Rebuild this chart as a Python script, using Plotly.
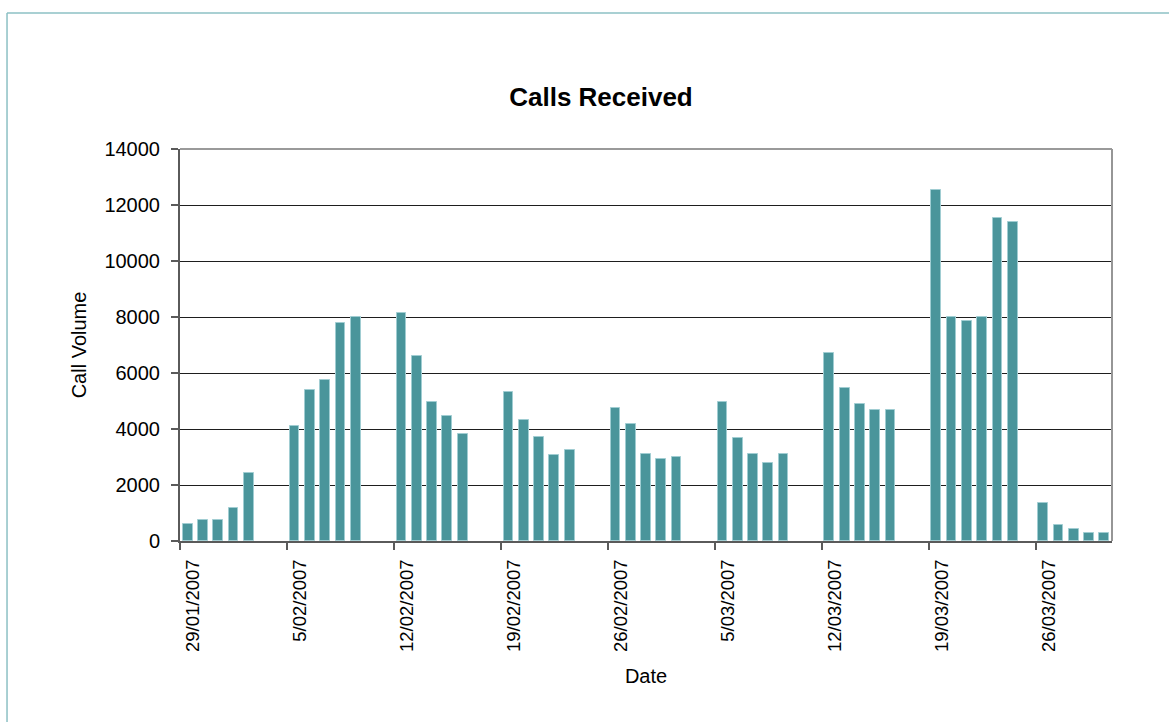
import pandas as pd
import plotly.graph_objects as go

# call days (weekends mostly empty)
dates = [
    "2007-01-29", "2007-01-30", "2007-01-31", "2007-02-01", "2007-02-02",
    "2007-02-05", "2007-02-06", "2007-02-07", "2007-02-08", "2007-02-09",
    "2007-02-12", "2007-02-13", "2007-02-14", "2007-02-15", "2007-02-16",
    "2007-02-19", "2007-02-20", "2007-02-21", "2007-02-22", "2007-02-23",
    "2007-02-26", "2007-02-27", "2007-02-28", "2007-03-01", "2007-03-02",
    "2007-03-05", "2007-03-06", "2007-03-07", "2007-03-08", "2007-03-09",
    "2007-03-12", "2007-03-13", "2007-03-14", "2007-03-15", "2007-03-16",
    "2007-03-19", "2007-03-20", "2007-03-21", "2007-03-22", "2007-03-23", "2007-03-24",
    "2007-03-26", "2007-03-27", "2007-03-28", "2007-03-29", "2007-03-30",
]
calls = [
    600, 740, 740, 1170, 2440,
    4120, 5400, 5745, 7800, 8015,
    8150, 6590, 4960, 4475, 3830,
    5315, 4330, 3700, 3055, 3260,
    4760, 4190, 3120, 2915, 2985,
    4975, 3690, 3120, 2770, 3120,
    6730, 5460, 4890, 4675, 4675,
    12540, 8015, 7865, 8015, 11540, 11395,
    1370, 585, 440, 300, 300,
]
week_starts = ["2007-01-29", "2007-02-05", "2007-02-12", "2007-02-19", "2007-02-26",
               "2007-03-05", "2007-03-12", "2007-03-19", "2007-03-26"]
y_ticks = [0, 2000, 4000, 6000, 8000, 10000, 12000, 14000]

DAY_MS = 86400000
FONT = "Liberation Sans, Arial, sans-serif"

fig = go.Figure()
fig.add_trace(go.Bar(
    x=pd.to_datetime(dates),
    y=calls,
    xperiod=DAY_MS,
    xperiodalignment="middle",
    width=0.64 * DAY_MS,
    marker=dict(color="rgb(74,149,155)",
                line=dict(color="rgb(160,205,210)", width=1)),
    showlegend=False,
))

fig.update_layout(
    width=1169, height=722,
    margin=dict(l=180, r=57, t=149, b=181),
    paper_bgcolor="white", plot_bgcolor="white",
    font=dict(family=FONT, color="black"),
    title=dict(text="<b>Calls Received</b>", x=0.4517, xref="paper",
               xanchor="center", y=0.8657, yref="container", yanchor="middle",
               font=dict(size=26, family=FONT, color="black")),
    bargap=0,
    shapes=[
        # outer chart frame (top and left only visible)
        dict(type="line", xref="paper", yref="paper", x0=-0.1856, x1=1.1,
             y0=1.347, y1=1.347, line=dict(color="rgb(140,192,196)", width=1.5)),
        dict(type="line", xref="paper", yref="paper", x0=-0.1856, x1=-0.1856,
             y0=1.347, y1=-0.5, line=dict(color="rgb(140,192,196)", width=1.5)),
        # plot area top and right edges
        dict(type="line", xref="paper", yref="paper", x0=0, x1=1, y0=1, y1=1,
             line=dict(color="rgb(120,120,120)", width=1.5)),
        dict(type="line", xref="paper", yref="paper", x0=1, x1=1, y0=0, y1=1,
             line=dict(color="rgb(150,150,150)", width=2)),
    ],
)

fig.update_xaxes(
    type="date",
    range=["2007-01-29", "2007-03-31"],
    tickvals=week_starts,
    tickformat="%-d/%m/%Y",
    tickangle=-90,
    ticks="outside", ticklen=7, tickcolor="rgb(90,90,90)", tickwidth=1.5,
    ticklabelshift=13,
    ticklabelstandoff=2,
    tickfont=dict(size=18.5, family=FONT, color="black"),
    showgrid=False, zeroline=False,
    showline=True, linecolor="rgb(90,90,90)", linewidth=2,
    title=dict(text="Date", font=dict(size=20, family=FONT, color="black"),
               standoff=18),
)
fig.update_yaxes(
    range=[0, 14000],
    tickvals=y_ticks,
    tickformat="d",
    ticks="outside", ticklen=7, tickcolor="rgb(90,90,90)", tickwidth=1.5,
    ticklabelstandoff=7,
    tickfont=dict(size=20, family=FONT, color="black"),
    showgrid=True, gridcolor="rgb(30,30,30)", gridwidth=1,
    zeroline=False,
    showline=True, linecolor="rgb(90,90,90)", linewidth=2,
    title=dict(text="Call Volume", font=dict(size=20, family=FONT, color="black"),
               standoff=12),
)

fig.write_html("out.html", config={"displayModeBar": False},
               post_script="document.body.style.margin = '0px';")
